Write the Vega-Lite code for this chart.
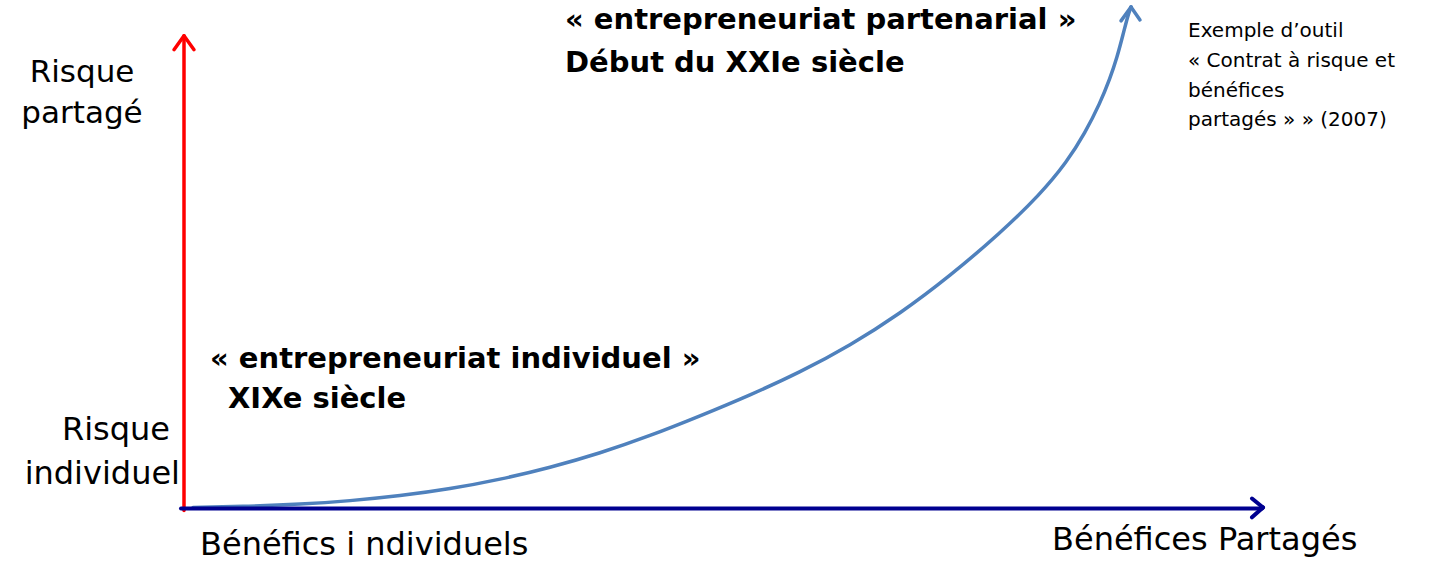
{
  "$schema": "https://vega.github.io/schema/vega-lite/v6.json",
  "width": 1431,
  "height": 568,
  "padding": 0,
  "autosize": {"type": "fit", "contains": "padding"},
  "background": "white",
  "config": {"view": {"stroke": null}},
  "datasets": {
    "red": [
      {"x": 184, "y": 510, "x2": 184, "y2": 33},
      {"x": 174, "y": 46, "x2": 184, "y2": 32},
      {"x": 194, "y": 46, "x2": 184, "y2": 32}
    ],
    "navy": [
      {"x": 181, "y": 508, "x2": 1262, "y2": 508},
      {"x": 1252, "y": 498, "x2": 1263, "y2": 507},
      {"x": 1252, "y": 517, "x2": 1263, "y2": 507}
    ],
    "bluewings": [
      {"x": 1121, "y": 17, "x2": 1131, "y2": 3},
      {"x": 1140, "y": 16, "x2": 1131, "y2": 3}
    ],
    "curve": [
      {"x": 193, "y": 507}, {"x": 250, "y": 505.9}, {"x": 300, "y": 503.9},
      {"x": 350, "y": 500.4}, {"x": 400, "y": 495.4}, {"x": 450, "y": 488.4},
      {"x": 500, "y": 478.9}, {"x": 550, "y": 466.9}, {"x": 600, "y": 452.4},
      {"x": 650, "y": 434.9}, {"x": 700, "y": 414.9}, {"x": 750, "y": 393.9},
      {"x": 800, "y": 370.9}, {"x": 850, "y": 343.9}, {"x": 900, "y": 311.9},
      {"x": 950, "y": 273.9}, {"x": 1000, "y": 230.9}, {"x": 1040, "y": 192},
      {"x": 1067, "y": 159}, {"x": 1085, "y": 130}, {"x": 1100, "y": 100},
      {"x": 1110, "y": 75}, {"x": 1117, "y": 54}, {"x": 1123, "y": 31},
      {"x": 1128, "y": 11}, {"x": 1131, "y": 3}
    ],
    "txtCenter": [
      {"t": "Risque", "x": 82, "y": 79},
      {"t": "partagé", "x": 82, "y": 120}
    ],
    "txtRight": [
      {"t": "Risque", "x": 170, "y": 439},
      {"t": "individuel", "x": 180, "y": 483}
    ],
    "txtLeft": [
      {"t": "Bénéfics i ndividuels", "x": 200, "y": 555},
      {"t": "Bénéfices Partagés", "x": 1052, "y": 550}
    ],
    "txtBold": [
      {"t": "« entrepreneuriat individuel »", "x": 210, "y": 367},
      {"t": "XIXe siècle", "x": 228, "y": 407},
      {"t": "« entrepreneuriat partenarial »", "x": 565, "y": 25},
      {"t": "Début du XXIe siècle", "x": 565, "y": 68}
    ],
    "txtSmall": [
      {"t": "Exemple d’outil", "x": 1188, "y": 33},
      {"t": "« Contrat à risque et", "x": 1188, "y": 63},
      {"t": "bénéfices", "x": 1188, "y": 94},
      {"t": "partagés » » (2007)", "x": 1188, "y": 123}
    ]
  },
  "layer": [
    {
      "data": {"name": "curve"},
      "mark": {"type": "line", "color": "#4F81BD", "strokeWidth": 3.5, "interpolate": "basis", "strokeCap": "round"},
      "encoding": {
        "x": {"field": "x", "type": "quantitative", "scale": {"domain": [0, 1431], "nice": false, "zero": false}, "axis": null},
        "y": {"field": "y", "type": "quantitative", "scale": {"domain": [0, 568], "nice": false, "zero": false, "reverse": true}, "axis": null},
        "order": {"field": "x", "type": "quantitative"}
      }
    },
    {
      "data": {"name": "bluewings"},
      "mark": {"type": "rule", "color": "#4F81BD", "strokeWidth": 3.5, "strokeCap": "round"},
      "encoding": {
        "x": {"field": "x", "type": "quantitative"},
        "y": {"field": "y", "type": "quantitative"},
        "x2": {"field": "x2"},
        "y2": {"field": "y2"}
      }
    },
    {
      "data": {"name": "red"},
      "mark": {"type": "rule", "color": "#FF0000", "strokeWidth": 3.5, "strokeCap": "round"},
      "encoding": {
        "x": {"field": "x", "type": "quantitative"},
        "y": {"field": "y", "type": "quantitative"},
        "x2": {"field": "x2"},
        "y2": {"field": "y2"}
      }
    },
    {
      "data": {"name": "navy"},
      "mark": {"type": "rule", "color": "#000090", "strokeWidth": 4, "strokeCap": "round"},
      "encoding": {
        "x": {"field": "x", "type": "quantitative"},
        "y": {"field": "y", "type": "quantitative"},
        "x2": {"field": "x2"},
        "y2": {"field": "y2"}
      }
    },
    {
      "data": {"name": "txtCenter"},
      "mark": {"type": "text", "font": "DejaVu Sans", "fontSize": 31, "align": "center", "baseline": "alphabetic", "color": "#000000"},
      "encoding": {
        "x": {"field": "x", "type": "quantitative"},
        "y": {"field": "y", "type": "quantitative"},
        "text": {"field": "t"}
      }
    },
    {
      "data": {"name": "txtRight"},
      "mark": {"type": "text", "font": "DejaVu Sans", "fontSize": 32, "align": "right", "baseline": "alphabetic", "color": "#000000"},
      "encoding": {
        "x": {"field": "x", "type": "quantitative"},
        "y": {"field": "y", "type": "quantitative"},
        "text": {"field": "t"}
      }
    },
    {
      "data": {"name": "txtLeft"},
      "mark": {"type": "text", "font": "DejaVu Sans", "fontSize": 32, "align": "left", "baseline": "alphabetic", "color": "#000000"},
      "encoding": {
        "x": {"field": "x", "type": "quantitative"},
        "y": {"field": "y", "type": "quantitative"},
        "text": {"field": "t"}
      }
    },
    {
      "data": {"name": "txtBold"},
      "mark": {"type": "text", "font": "DejaVu Sans", "fontSize": 29, "fontWeight": "bold", "align": "left", "baseline": "alphabetic", "color": "#000000"},
      "encoding": {
        "x": {"field": "x", "type": "quantitative"},
        "y": {"field": "y", "type": "quantitative"},
        "text": {"field": "t"}
      }
    },
    {
      "data": {"name": "txtSmall"},
      "mark": {"type": "text", "font": "DejaVu Sans", "fontSize": 20, "align": "left", "baseline": "alphabetic", "color": "#000000"},
      "encoding": {
        "x": {"field": "x", "type": "quantitative"},
        "y": {"field": "y", "type": "quantitative"},
        "text": {"field": "t"}
      }
    }
  ]
}
